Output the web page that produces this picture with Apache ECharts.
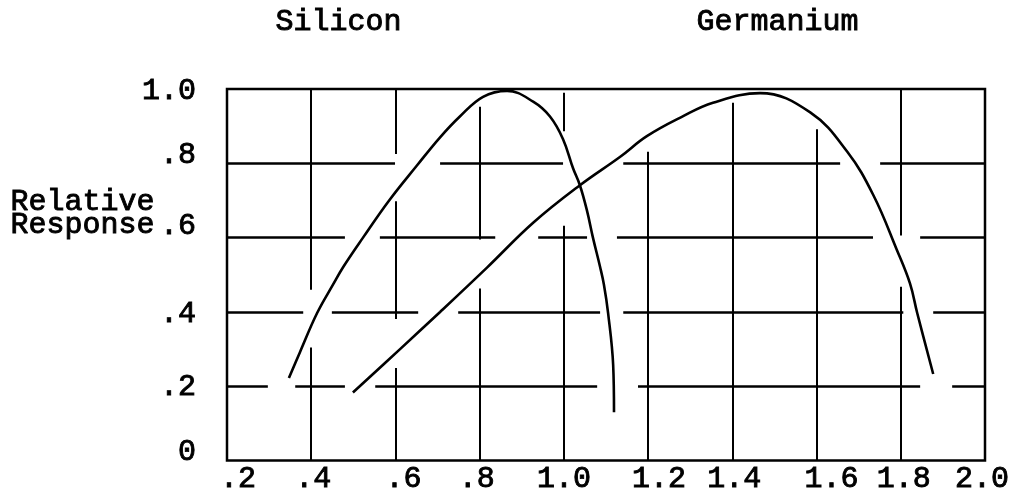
<!DOCTYPE html>
<html>
<head>
<meta charset="utf-8">
<script src="https://cdn.jsdelivr.net/npm/echarts@6/dist/echarts.min.js"></script>
<style>
  html, body { margin: 0; padding: 0; background: #fff; }
  #chart { width: 1014px; height: 495px; }
</style>
</head>
<body>
<div id="chart"></div>
<script>
// Wavelength axis (micrometres) and relative response scale
const xTickLabels = ['.2', '.4', '.6', '.8', '1.0', '1.2', '1.4', '1.6', '1.8', '2.0'];
const yTickLabels = ['0', '.2', '.4', '.6', '.8', '1.0'];

// Spectral response curves: [wavelength, relative response]
const silicon = [
  [0.347, 0.222], [0.373, 0.291], [0.414, 0.397], [0.452, 0.474], [0.476, 0.521],
  [0.523, 0.600], [0.585, 0.700], [0.651, 0.794], [0.706, 0.870], [0.753, 0.926],
  [0.808, 0.979], [0.865, 0.995], [0.927, 0.966], [0.967, 0.926], [0.998, 0.865],
  [1.022, 0.786], [1.038, 0.741], [1.055, 0.672], [1.069, 0.600], [1.086, 0.521],
  [1.095, 0.474], [1.105, 0.397], [1.117, 0.257], [1.119, 0.130]
];
const germanium = [
  [0.499, 0.183], [0.611, 0.300], [0.706, 0.400], [0.818, 0.520], [0.927, 0.640],
  [1.038, 0.741], [1.133, 0.817], [1.197, 0.873], [1.280, 0.925], [1.354, 0.963],
  [1.466, 0.989], [1.585, 0.937], [1.673, 0.831], [1.735, 0.714], [1.791, 0.566],
  [1.822, 0.476], [1.839, 0.397], [1.877, 0.233]
];

// Hand-ruled grid: horizontal runs [fromX, toX] per response level
const hRuns08 = [[0.202, 0.599], [0.706, 0.998], [1.141, 1.656], [1.751, 2.0]];
const hRuns06 = [[0.2, 0.48], [0.563, 0.837], [0.939, 1.055], [1.126, 1.734], [1.846, 2.0]];
const hRuns04 = [[0.2, 0.381], [0.449, 0.654], [0.749, 1.086], [1.141, 1.806], [1.877, 2.0]];
const hRuns02 = [[0.2, 0.297], [0.362, 0.48], [0.552, 1.079], [1.176, 1.846], [1.922, 2.0]];
// vertical runs [fromY, toY] per wavelength
const vRuns04 = [[0, 0.304], [0.46, 1.0]];
const vRuns06 = [[0, 0.249], [0.381, 0.698], [0.825, 1.0]];
const vRuns08 = [[0, 0.463], [0.595, 0.952]];
const vRuns10 = [[0, 0.632], [0.886, 0.99]];
const vRuns12 = [[0, 0.831]];
const vRuns14 = [[0, 0.963]];
const vRuns16 = [[0, 0.892]];
const vRuns18 = [[0, 0.468], [0.606, 1.0]];

const hGrid = [[0.8, hRuns08], [0.6, hRuns06], [0.4, hRuns04], [0.2, hRuns02]];
const vGrid = [[0.4, vRuns04], [0.6, vRuns06], [0.8, vRuns08], [1.0, vRuns10],
               [1.2, vRuns12], [1.4, vRuns14], [1.6, vRuns16], [1.8, vRuns18]];

const FONT = 'Liberation Mono';

const gridSegments = [];
hGrid.forEach(([y, runs]) => runs.forEach(([a, b]) => {
  gridSegments.push([{ coord: [a, y] }, { coord: [b, y], lineStyle: { width: 2.6 } }]);
}));
vGrid.forEach(([x, runs]) => runs.forEach(([a, b]) => {
  gridSegments.push([{ coord: [x, a] }, { coord: [x, b], lineStyle: { width: 2 } }]);
}));

// typewriter look: regular face with a thin outline for a heavier stroke
const labelText = {
  fontFamily: FONT, fontSize: 30, fontWeight: 'normal', color: '#000',
  textBorderColor: '#000', textBorderWidth: 0.9
};
function typed(text, x, y, lineHeight) {
  return {
    type: 'text', left: x, top: y, silent: true,
    style: {
      text: text, font: '30px "' + FONT + '"', fill: '#000',
      stroke: '#000', lineWidth: 0.9, lineHeight: lineHeight || 30
    }
  };
}

// the typed labels sit a little off the ruled lines; pixel nudges [right, up]
const xNudge = { '.2': [11, 0], '.4': [2, 0], '.6': [8, 0], '.8': [-3, 0], '1.0': [0, 0],
                 '1.2': [11, 0], '1.4': [2, 0], '1.6': [15, 0], '1.8': [3, 0], '2.0': [-3, 0] };
const yNudge = { '0': [0, 8], '.2': [0, -1], '.4': [0, -2], '.6': [0, 12], '.8': [0, 8], '1.0': [0, -2] };

function nudgeStyle(dx, dy) {
  return Object.assign({}, labelText, {
    padding: [Math.max(0, -2 * dy), Math.max(0, -2 * dx), Math.max(0, 2 * dy), Math.max(0, 2 * dx)]
  });
}
const xRich = {}, yRich = {};
xTickLabels.forEach((t, i) => { xRich['x' + i] = nudgeStyle(xNudge[t][0], xNudge[t][1]); });
yTickLabels.forEach((t, i) => { yRich['y' + i] = nudgeStyle(yNudge[t][0], yNudge[t][1]); });

const chart = echarts.init(document.getElementById('chart'), null, { renderer: 'canvas' });
chart.setOption({
  animation: false,
  backgroundColor: '#fff',
  graphic: [
    typed('Silicon', 275, 7),
    typed('Germanium', 696, 7),
    typed('Relative\nResponse', 10, 187, 23)
  ],
  grid: {
    left: 227, right: 29, top: 89, bottom: 28,
    show: true, borderColor: '#000', borderWidth: 2.5, backgroundColor: 'transparent'
  },
  xAxis: {
    type: 'value', min: 0.2, max: 2.0, interval: 0.2,
    axisLine: { show: false }, axisTick: { show: false }, splitLine: { show: false },
    axisLabel: {
      margin: 4,
      formatter: v => {
        const i = Math.round((v - 0.2) / 0.2);
        return '{x' + i + '|' + xTickLabels[i] + '}';
      },
      rich: xRich
    }
  },
  yAxis: {
    type: 'value', min: 0, max: 1.0, interval: 0.2,
    axisLine: { show: false }, axisTick: { show: false }, splitLine: { show: false },
    axisLabel: {
      margin: 31,
      formatter: v => {
        const i = Math.round(v / 0.2);
        return '{y' + i + '|' + yTickLabels[i] + '}';
      },
      rich: yRich
    }
  },
  series: [
    {
      name: 'grid', type: 'line', data: [], silent: true,
      markLine: {
        silent: true, symbol: 'none', animation: false,
        label: { show: false },
        lineStyle: { color: '#000', type: 'solid', width: 2 },
        emphasis: { disabled: true },
        data: gridSegments
      }
    },
    {
      name: 'Silicon', type: 'line', data: silicon, showSymbol: false,
      smooth: 0.4,
      lineStyle: { color: '#000', width: 2.6 }
    },
    {
      name: 'Germanium', type: 'line', data: germanium, showSymbol: false,
      smooth: 0.4,
      lineStyle: { color: '#000', width: 2.6 }
    }
  ]
});
</script>
</body>
</html>
